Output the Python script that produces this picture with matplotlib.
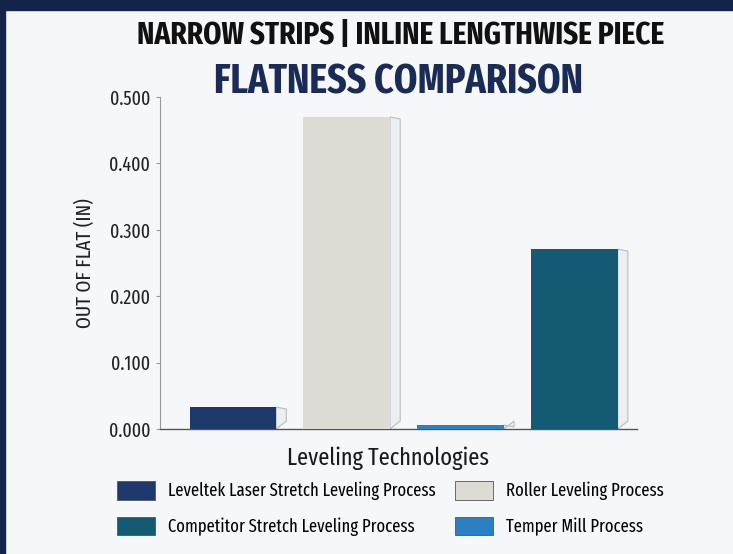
import matplotlib
matplotlib.use("Agg")
import matplotlib.pyplot as plt
from matplotlib.patches import Rectangle, Polygon, Patch

# ---- data ----
categories = ["Leveltek Laser Stretch Leveling Process",
              "Roller Leveling Process",
              "Temper Mill Process",
              "Competitor Stretch Leveling Process"]
values = [0.033, 0.470, 0.006, 0.271]
colors = ["#1e3a6d", "#dddbd4", "#2a80c2", "#135a72"]
yticks = [0.0, 0.1, 0.2, 0.3, 0.4, 0.5]
ytick_labels = ["0.000", "0.100", "0.200", "0.300", "0.400", "0.500"]
legend_order = [0, 3, 1, 2]

FONTS = ["Fira Sans Extra Condensed", "Fira Sans Condensed", "DejaVu Sans"]
plt.rcParams["font.family"] = FONTS
plt.rcParams["font.stretch"] = "condensed"

W, H = 733, 554
fig = plt.figure(figsize=(W / 100, H / 100), dpi=100, facecolor="#f6f7f9")

# navy frame
fig.patches.append(Rectangle((0, 1 - 10 / H), 1, 10 / H, transform=fig.transFigure,
                             color="#14234a", zorder=0))
fig.patches.append(Rectangle((0, 0), 5 / W, 1, transform=fig.transFigure,
                             color="#14234a", zorder=0))

ax = fig.add_axes([160 / W, 1 - 429 / H, (637 - 160) / W, (429 - 97) / H])
ax.set_facecolor("none")

x = list(range(len(categories)))
bw = 0.76
ax.bar(x, values, width=bw, color=colors, zorder=3, edgecolor="none")

# bevelled side faces (derived from bar values)
d = 0.09
dy = 0.012
for xi, v in zip(x, values):
    xr = xi + bw / 2
    top = max(v - 0.002, 0.0015)
    poly = Polygon([(xr, top + 0.002), (xr + d, top - 0.001), (xr + d, dy), (xr, 0)],
                   closed=True, facecolor="#eceef1", edgecolor="#b8bcc4", lw=0.8, zorder=2)
    ax.add_patch(poly)

ax.set_xlim(-0.64, 3.55)
ax.set_ylim(0, 0.5)
ax.set_yticks(yticks)
ax.set_yticklabels(ytick_labels, fontsize=14, color="#222222")
ax.set_xticks([])
for s in ["top", "right"]:
    ax.spines[s].set_visible(False)
ax.spines["left"].set_color("#9a9a9a")
ax.spines["left"].set_linewidth(0.8)
ax.spines["bottom"].set_color("#555555")
ax.spines["bottom"].set_linewidth(1.0)
ax.tick_params(axis="y", length=3, color="#9a9a9a", pad=4)

ax.set_ylabel("OUT OF FLAT (IN)", fontsize=15, color="#222222", labelpad=10)
ax.set_xlabel("Leveling Technologies", fontsize=17.5, color="#1a1a1a", labelpad=12)
ax.xaxis.set_label_coords((388 - 160) / (637 - 160), -0.054)
ax.xaxis.label.set_va("top")

fig.text(401 / W, 1 - 36 / H, "NARROW STRIPS | INLINE LENGTHWISE PIECE",
         ha="center", va="center", fontsize=22.8, fontweight="bold", color="#111111")
fig.text(399 / W, 1 - 82 / H, "FLATNESS COMPARISON",
         ha="center", va="center", fontsize=29.5, fontweight="bold", color="#1b2b57")

handles = [Patch(facecolor=colors[i], edgecolor="#555555", lw=0.6, label=categories[i])
           for i in legend_order]
fig.legend(handles=handles, ncol=2, loc="upper left",
           bbox_to_anchor=(117 / W, 1 - 481 / H), frameon=False,
           fontsize=13, handlelength=2.1, handleheight=1.22, handletextpad=0.72,
           columnspacing=1.1, labelspacing=0.9, borderpad=0, borderaxespad=0)

fig.savefig("out.png", dpi=100, facecolor=fig.get_facecolor())
